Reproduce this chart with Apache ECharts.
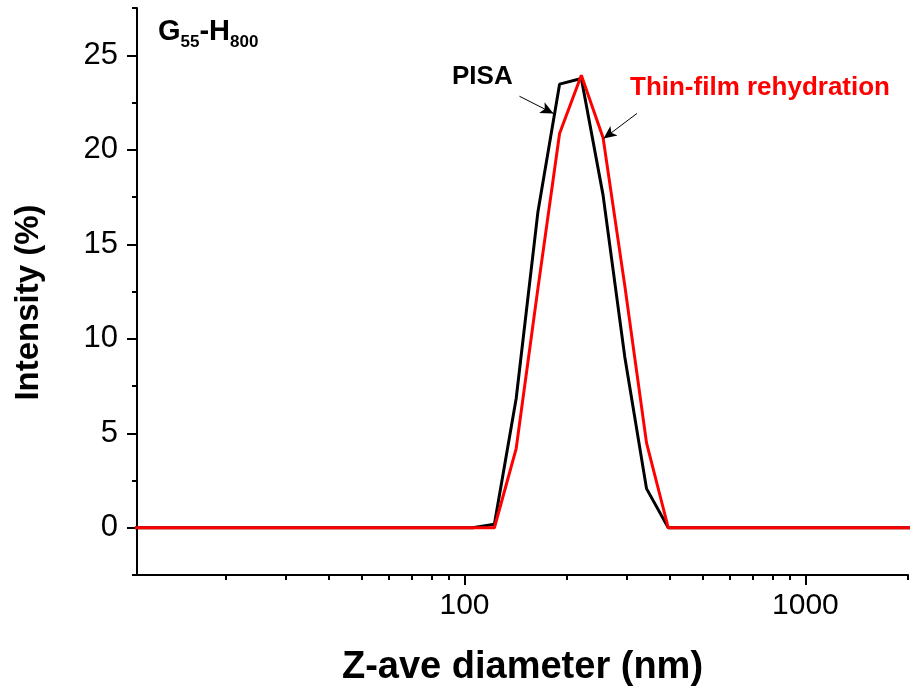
<!DOCTYPE html>
<html>
<head>
<meta charset="utf-8">
<script src="https://cdn.jsdelivr.net/npm/echarts@6/dist/echarts.min.js"></script>
<style>
html, body { margin: 0; padding: 0; background: #fff; }
#main { width: 911px; height: 692px; }
</style>
</head>
<body>
<div id="main"></div>
<script>
// DLS size bins (nm)
var sizes = [10.10, 11.70, 13.54, 15.69, 18.17, 21.04, 24.36, 28.21, 32.67, 37.84,
    43.82, 50.75, 58.77, 68.06, 78.82, 91.28, 105.7, 122.4, 141.8, 164.2,
    190.1, 220.2, 255.0, 295.3, 342.0, 396.1, 458.7, 531.2, 615.1, 712.4,
    825.0, 955.4, 1106, 1281, 1484, 1718, 1990, 2305];
// intensity (%)
var pisa = [0, 0, 0, 0, 0, 0, 0, 0, 0, 0,
    0, 0, 0, 0, 0, 0, 0, 0.19, 6.84, 16.7,
    23.47, 23.77, 17.6, 9.04, 2.07, 0, 0, 0, 0, 0,
    0, 0, 0, 0, 0, 0, 0, 0];
var thinFilm = [0, 0, 0, 0, 0, 0, 0, 0, 0, 0,
    0, 0, 0, 0, 0, 0, 0, 0, 4.19, 12.65,
    20.86, 23.94, 20.64, 12.81, 4.49, 0, 0, 0, 0, 0,
    0, 0, 0, 0, 0, 0, 0, 0];

var xMajor = [100, 1000];
var xMinor = [20, 30, 40, 50, 60, 70, 80, 90, 200, 300, 400, 500, 600, 700, 800, 900, 2000];
var yMajor = [0, 5, 10, 15, 20, 25];
var yMinor = [-2.5, 2.5, 7.5, 12.5, 17.5, 22.5, 27.5];

// arrow ends [size, intensity]
var pisaArrow = [[145, 22.83], [182.4, 21.92]];
var thinArrow = [[320.6, 21.92], [255.9, 20.59]];

(function() {
    var chart = echarts.init(document.getElementById('main'));
    var font = 'Liberation Sans, Arial, sans-serif';

    function pairs(ys) {
        return sizes.map(function(s, i) { return [s, ys[i]]; });
    }

    var option = {
        animation: false,
        backgroundColor: '#fff',
        grid: { left: 137, right: 3, top: 8, bottom: 117 },
        xAxis: [{
            type: 'log',
            min: 10.95,
            max: 2000,
            position: 'bottom',
            name: 'Z-ave diameter (nm)',
            nameLocation: 'middle',
            nameGap: 74,
            nameTextStyle: { fontFamily: font, fontWeight: 'bold', fontSize: 38, color: '#000' },
            axisLine: { show: true, onZero: false, lineStyle: { color: '#000', width: 2 } },
            axisTick: { show: true, inside: false, length: 10, customValues: xMajor, lineStyle: { color: '#000', width: 2 } },
            axisLabel: {
                customValues: xMajor, margin: 16, fontFamily: font, fontSize: 30, color: '#000',
                formatter: function(v) { return String(Math.round(v)); }
            },
            splitLine: { show: false }
        }, {
            type: 'log',
            min: 10.95,
            max: 2000,
            position: 'bottom',
            axisLine: { show: false, onZero: false },
            axisTick: { show: true, inside: false, length: 5, customValues: xMinor, lineStyle: { color: '#000', width: 2 } },
            axisLabel: { show: false },
            splitLine: { show: false }
        }],
        yAxis: [{
            type: 'value',
            min: -2.5,
            max: 27.5,
            position: 'left',
            name: 'Intensity (%)',
            nameLocation: 'middle',
            nameGap: 92,
            nameTextStyle: { fontFamily: font, fontWeight: 'bold', fontSize: 33, color: '#000', padding: [0, 22, 0, 0] },
            axisLine: { show: true, onZero: false, lineStyle: { color: '#000', width: 2 } },
            axisTick: { show: true, inside: false, length: 10, customValues: yMajor, lineStyle: { color: '#000', width: 2 } },
            axisLabel: { customValues: yMajor, margin: 19, fontFamily: font, fontSize: 31, color: '#000' },
            splitLine: { show: false }
        }, {
            type: 'value',
            min: -2.5,
            max: 27.5,
            position: 'left',
            axisLine: { show: false, onZero: false },
            axisTick: { show: true, inside: false, length: 5, customValues: yMinor, lineStyle: { color: '#000', width: 2 } },
            axisLabel: { show: false },
            splitLine: { show: false }
        }],
        graphic: [{
            type: 'text',
            left: 158,
            top: 17,
            style: {
                text: '{b|G}{s|55}{b|-H}{s|800}',
                rich: {
                    b: { fontFamily: font, fontWeight: 'bold', fontSize: 29, lineHeight: 29, verticalAlign: 'top', fill: '#000' },
                    s: { fontFamily: font, fontWeight: 'bold', fontSize: 17, lineHeight: 17, verticalAlign: 'top', padding: [17, 0, 0, 0], fill: '#000' }
                }
            }
        }, {
            type: 'text',
            left: 452,
            top: 64,
            style: { text: 'PISA', fontFamily: font, fontWeight: 'bold', fontSize: 26, fill: '#000' }
        }, {
            type: 'text',
            left: 630,
            top: 75,
            style: { text: 'Thin-film rehydration', fontFamily: font, fontWeight: 'bold', fontSize: 26, fill: '#ff0000' }
        }],
        series: [{
            name: 'PISA',
            type: 'line',
            xAxisIndex: 0,
            yAxisIndex: 0,
            data: pairs(pisa),
            showSymbol: false,
            symbol: 'none',
            lineStyle: { color: '#000', width: 3 },
            itemStyle: { color: '#000' },
            z: 2,
            markLine: {
                silent: true,
                symbol: ['none', 'arrow'],
                symbolSize: [9, 13],
                label: { show: false },
                lineStyle: { color: '#000', width: 1, type: 'solid' },
                data: [
                    [{ coord: pisaArrow[0] }, { coord: pisaArrow[1] }],
                    [{ coord: thinArrow[0] }, { coord: thinArrow[1] }]
                ]
            }
        }, {
            name: 'Thin-film rehydration',
            type: 'line',
            xAxisIndex: 0,
            yAxisIndex: 0,
            data: pairs(thinFilm),
            showSymbol: false,
            symbol: 'none',
            lineStyle: { color: '#ff0000', width: 3 },
            itemStyle: { color: '#ff0000' },
            z: 3
        }]
    };

    chart.setOption(option);
})();
</script>
</body>
</html>
